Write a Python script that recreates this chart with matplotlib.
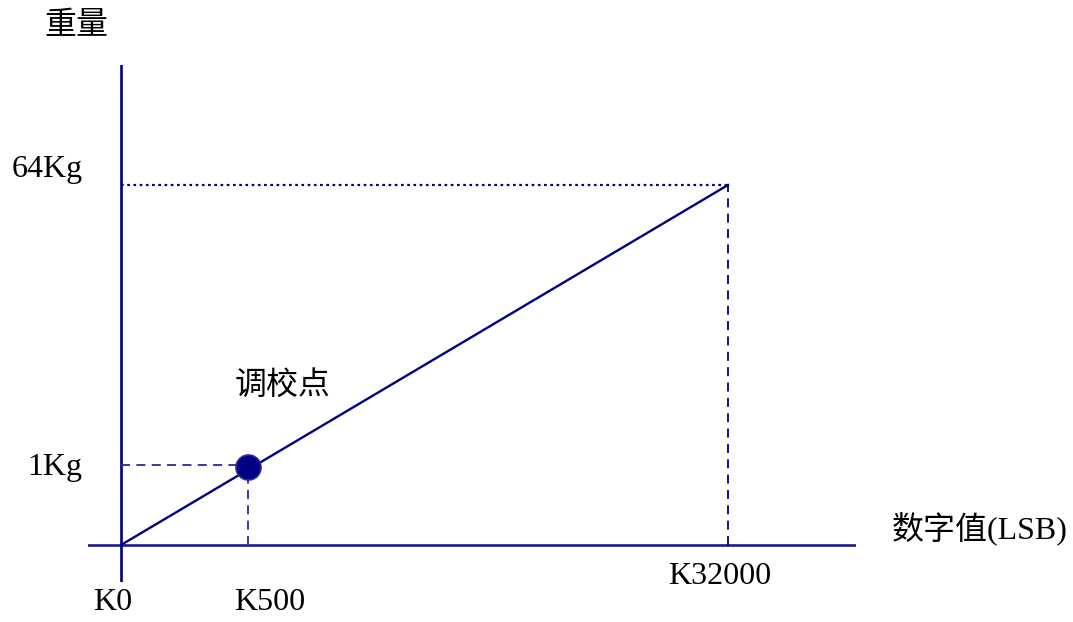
import numpy as np
import matplotlib
matplotlib.use("Agg")
import matplotlib.pyplot as plt

# ---- data ----
x_values = [0, 500, 32000]          # digital value (LSB)
y_values = [0, 1, 64]               # weight (Kg)
x_labels = ["K0", "K500", "K32000"]
y_labels = ["1Kg", "64Kg"]
calib_x = 500
calib_y = 1
calib_label = "调校点"
x_title = "数字值(LSB)"
y_title = "重量"

# schematic (non-linear) layout of the axes, in pixel offsets from origin
x_layout = [0, 127, 607]
y_layout = [0, 80, 360]


def make_scale(vals, pos):
    vals = np.asarray(vals, float)
    pos = np.asarray(pos, float)

    def _map(v, a, b):
        v = np.asarray(v, float)
        out = np.interp(v, a, b)
        lo_slope = (b[1] - b[0]) / (a[1] - a[0])
        hi_slope = (b[-1] - b[-2]) / (a[-1] - a[-2])
        out = np.where(v < a[0], b[0] + (v - a[0]) * lo_slope, out)
        out = np.where(v > a[-1], b[-1] + (v - a[-1]) * hi_slope, out)
        return out

    return (lambda v: _map(v, vals, pos)), (lambda p: _map(p, pos, vals))


W, H = 1073, 622
fig = plt.figure(figsize=(W / 100, H / 100), dpi=100)
# axes box spans the drawn axis lines
left_px, right_px, top_px, bot_px = 88, 856, 65, 582
ax = fig.add_axes([left_px / W, 1 - bot_px / H, (right_px - left_px) / W,
                   (bot_px - top_px) / H])

fx, ix = make_scale(x_values, x_layout)
fy, iy = make_scale(y_values, y_layout)
ax.set_xscale("function", functions=(fx, ix))
ax.set_yscale("function", functions=(fy, iy))
ax.set_xlim(float(ix(-33)), float(ix(735)))
ax.set_ylim(float(iy(-37)), float(iy(480)))
ax.axis("off")

navy = "#000080"
axis_col = "#1c1c90"

# axes lines
ax.axhline(0, color=axis_col, lw=1.9, zorder=2)
ax.axvline(0, color=navy, lw=1.9, zorder=2)

# main line
ax.plot([x_values[0], x_values[-1]], [y_values[0], y_values[-1]],
        color=navy, lw=1.7, zorder=3)

# guide lines
ax.plot([x_values[0], x_values[-1]], [y_values[-1], y_values[-1]],
        color=navy, lw=1.6, linestyle=(0, (1.2, 1.6)), zorder=2)
ax.plot([x_values[-1], x_values[-1]], [y_values[0], y_values[-1]],
        color=navy, lw=1.3, linestyle=(0, (5, 3.5)), zorder=2)
ax.plot([x_values[0], calib_x], [calib_y, calib_y],
        color="#2a2a98", lw=1.3, linestyle=(0, (5, 3.5)), zorder=2)
ax.plot([calib_x, calib_x], [y_values[0], calib_y],
        color="#2a2a98", lw=1.3, linestyle=(0, (5, 3.5)), zorder=2)

# calibration point
ax.plot([calib_x], [calib_y * 0.97], marker="o", markersize=18,
        color=navy, markeredgecolor="#2b2ba0", markeredgewidth=1.2, zorder=4)

fam = ["Liberation Serif", "Noto Sans CJK SC"]
fs = 23


def ftext(px, py, s, **kw):
    fig.text(px / W, 1 - py / H, s, fontsize=fs, family=fam,
             ha="center", va="center", **kw)


ftext(113, 602, x_labels[0])
ftext(270, 602, x_labels[1])
ftext(720, 577, x_labels[2])
ftext(55, 467, y_labels[0])
ftext(47, 170, y_labels[1])
ftext(76, 27, y_title, fontweight="light")
ftext(283, 386, calib_label, fontweight="light")
ftext(980, 529, x_title, fontweight="light")

fig.savefig("out.png", dpi=100)
